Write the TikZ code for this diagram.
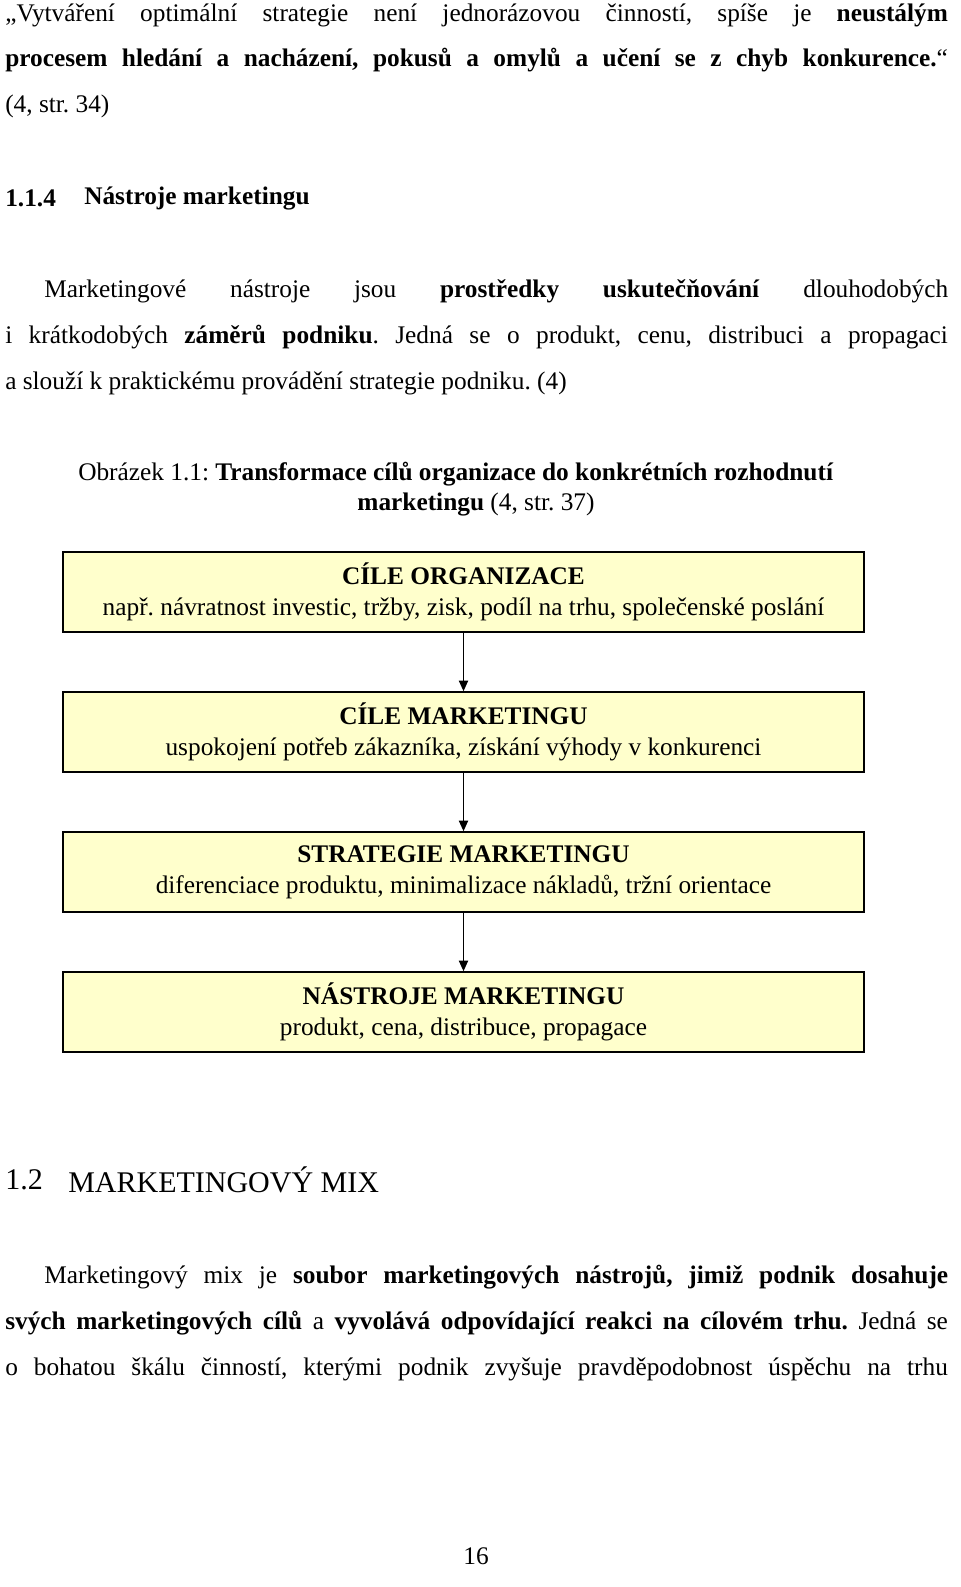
\documentclass[tikz,border=0pt]{standalone}
\usepackage{fontspec}
\setmainfont{Liberation Serif}
\usetikzlibrary{arrows.meta}
\definecolor{boxfill}{HTML}{FFFFCC}
\frenchspacing
\begin{document}
\begin{tikzpicture}[x=0.75pt,y=-0.75pt,
  every node/.style={inner sep=0pt,font=\fontsize{19}{23}\selectfont},
  txt/.style={anchor=west},
  box/.style={draw=black,line width=1.2pt,fill=boxfill,minimum width=600.75pt,minimum height=60pt,align=center,font=\fontsize{19}{23}\selectfont},
  arr/.style={-{Triangle[length=8pt,width=7pt]},line width=0.9pt}]
\useasboundingbox (0,0) rectangle (960,1587);
\node[txt] (l1) at (5,15) {\makebox[707pt][s]{„Vytváření optimální strategie není jednorázovou činností, spíše je \textbf{neustálým}}};
\node[txt] (l2) at (5,60) {\makebox[707pt][s]{\textbf{procesem hledání a nacházení, pokusů a omylů a učení se z chyb konkurence.}“}};
\node[txt] (l3) at (5,106) {(4, str. 34)};
\node[txt] (h1) at (5,198) {\textbf{1.1.4}};
\node[txt] (h1b) at (84,198) {\textbf{Nástroje marketingu}};
\node[txt] (p1) at (44,291) {\makebox[678pt][s]{Marketingové nástroje jsou \textbf{prostředky} \textbf{uskutečňování} dlouhodobých}};
\node[txt] (p2) at (5,337) {\makebox[707pt][s]{i krátkodobých \textbf{záměrů podniku}. Jedná se o produkt, cenu, distribuci a propagaci}};
\node[txt] (p3) at (5,383) {a slouží k praktickému provádění strategie podniku. (4)};
\node[txt] (c1) at (78,474) {Obrázek 1.1: \textbf{Transformace cílů organizace do konkrétních rozhodnutí}};
\node (c2) at (476,505) {\textbf{marketingu} (4, str. 37)};
\node[box] (b1) at (463.5,592) {\textbf{CÍLE ORGANIZACE}\\ např. návratnost investic, tržby, zisk, podíl na trhu, společenské poslání};
\node[box] (b2) at (463.5,732) {\textbf{CÍLE MARKETINGU}\\ uspokojení potřeb zákazníka, získání výhody v konkurenci};
\node[box] (b3) at (463.5,872) {\textbf{STRATEGIE MARKETINGU}\\ diferenciace produktu, minimalizace nákladů, tržní orientace};
\node[box] (b4) at (463.5,1012) {\textbf{NÁSTROJE MARKETINGU}\\ produkt, cena, distribuce, propagace};
\draw[arr] (b1.south) -- (b2.north);
\draw[arr] (b2.south) -- (b3.north);
\draw[arr] (b3.south) -- (b4.north);
\node[txt,font=\fontsize{22.5}{27}\selectfont] (s1) at (5,1180) {1.2};
\node[txt,font=\fontsize{22.5}{27}\selectfont] (s1b) at (68,1180) {MARKETINGOVÝ MIX};
\node[txt] (m1) at (44,1277) {\makebox[678pt][s]{Marketingový mix je \textbf{soubor marketingových nástrojů, jimiž podnik dosahuje}}};
\node[txt] (m2) at (5,1323) {\makebox[707pt][s]{\textbf{svých marketingových cílů} a \textbf{vyvolává odpovídající reakci na cílovém trhu.} Jedná se}};
\node[txt] (m3) at (5,1369) {\makebox[707pt][s]{o bohatou škálu činností, kterými podnik zvyšuje pravděpodobnost úspěchu na trhu}};
\node (pg) at (476,1556) {16};
\end{tikzpicture}
\end{document}
